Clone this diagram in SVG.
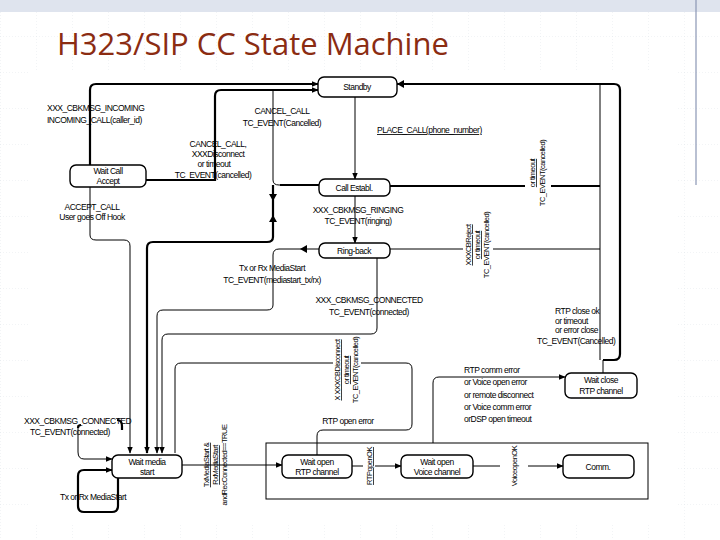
<svg xmlns="http://www.w3.org/2000/svg" width="720" height="540" viewBox="0 0 720 540">
<defs>
<pattern id="grid" width="36" height="36" patternUnits="userSpaceOnUse"><path d="M0 0H36M0 0V36" fill="none" stroke="#d4d8e0" stroke-width="0.6" stroke-dasharray="1 2"/></pattern>
<marker id="ar" viewBox="0 0 10 10" refX="9" refY="5" markerWidth="7" markerHeight="7" markerUnits="userSpaceOnUse" orient="auto"><path d="M0 1L10 5L0 9Z" fill="#000"/></marker>
<style>
.n rect{fill:#fff;stroke:#000;stroke-width:1.4}
.n text,.l{font-family:"Liberation Sans",Arial,sans-serif;font-size:8.5px;fill:#000;letter-spacing:-0.5px}
.n text{text-anchor:middle}
.c{text-anchor:middle}
.t{fill:none;stroke:#000;stroke-width:1}
.k{fill:none;stroke:#000;stroke-width:2.2}
</style>
</defs>
<rect width="720" height="540" fill="#fff"/>
<rect width="720" height="540" fill="url(#grid)"/>
<rect width="720" height="12" fill="#dfe4ee"/>
<line x1="696" y1="0" x2="696" y2="185" stroke="#8a96b4" stroke-width="1.2"/>
<text x="57" y="55" font-family="'Open Sans','Liberation Sans',sans-serif" font-size="31" fill="#8b2c12">H323/SIP CC State Machine</text>
<rect x="30" y="70" width="646" height="455" fill="#fff"/>

<g id="connectors">
<path class="k" d="M90 165V90Q90 84 96 84H318" marker-end="url(#ar)"/>
<path class="k" d="M146 180H215V96Q215 90 221 90H318" marker-end="url(#ar)"/>
<path class="t" d="M273 91V180Q273 185 279 185H319"/>
<path class="k" d="M319 185H280"/>
<path class="k" d="M273 185V237Q273 242 267 242H153Q147 242 147 248V453" marker-end="url(#ar)"/>
<path d="M269 194L277 194L273 201Z M269 222L277 222L273 215Z" fill="#000"/>
<path class="t" d="M319 249H279Q273 249 273 255V305Q273 310 267 310H163Q157 310 157 316V453" marker-end="url(#ar)"/>
<path d="M307 245L307 253L300 249Z" fill="#000"/>
<path class="t" d="M90 187V235Q90 240 96 240H124Q130 240 130 246V453" marker-end="url(#ar)"/>
<path class="t" d="M355 97V179" marker-end="url(#ar)"/>
<path class="t" d="M355 196V243" marker-end="url(#ar)"/>
<path class="t" d="M377 258V328Q377 334 371 334H168Q162 334 162 340V453" marker-end="url(#ar)"/>
<path class="t" d="M317 455V436Q317 430 323 430H406Q412 430 412 424V369Q412 363 406 363H181Q175 363 175 369V453"/>
<path class="k" d="M397 84H614Q620 84 620 90V354Q620 360 614 360H603"/>
<path class="t" d="M600 84V360"/>
<path d="M404 80L404 88L397 84Z" fill="#000"/>
<path class="k" d="M390 186H600"/>
<path class="t" d="M390 249H600"/>
<path class="t" d="M603 360V373"/>
<path class="t" d="M433 443V383Q433 377 439 377H565" marker-end="url(#ar)"/>
<rect x="266" y="443" width="382" height="56" class="t"/>
<path class="t" d="M172 465H282" marker-end="url(#ar)"/>
<path class="t" d="M352 466H363M375 466H401" marker-end="url(#ar)"/>
<path class="t" d="M473 466H500M528 466H563" marker-end="url(#ar)"/>
<path class="k" d="M117 420Q122 420 122 426V430"/>
<path class="t" d="M78 428V452Q78 459 84 459H112" marker-end="url(#ar)"/>
<path class="k" d="M78 428Q78 425 81 425"/>
<path class="k" d="M118 476V506Q118 512 112 512H84Q78 512 78 506V476Q78 470 84 470H112" marker-end="url(#ar)"/>
</g>

<g id="standby" class="n"><rect x="318" y="77" width="79" height="20" rx="6"/><text x="357" y="90">Standby</text></g>
<g id="wait-call-accept" class="n"><rect x="70" y="165" width="76" height="22" rx="6"/><text x="108" y="174">Wait Call</text><text x="108" y="184">Accept</text></g>
<g id="call-establ" class="n"><rect x="319" y="179" width="71" height="17" rx="6"/><text x="354" y="191">Call Establ.</text></g>
<g id="ring-back" class="n"><rect x="319" y="243" width="71" height="15" rx="6"/><text x="354" y="254">Ring-back</text></g>
<g id="wait-close" class="n"><rect x="565" y="373" width="72" height="25" rx="6"/><text x="601" y="383">Wait close</text><text x="601" y="394">RTP channel</text></g>
<g id="wait-media" class="n"><rect x="112" y="455" width="70" height="23" rx="6"/><text x="147" y="465">Wait media</text><text x="147" y="475">start</text></g>
<g id="wait-rtp" class="n"><rect x="282" y="455" width="70" height="23" rx="6"/><text x="317" y="465">Wait open</text><text x="317" y="475">RTP channel</text></g>
<g id="wait-voice" class="n"><rect x="401" y="455" width="72" height="23" rx="6"/><text x="437" y="465">Wait open</text><text x="437" y="475">Voice channel</text></g>
<g id="comm" class="n"><rect x="563" y="455" width="71" height="23" rx="6"/><text x="598" y="470">Comm.</text></g>

<g id="labels">
<text class="l" x="47" y="111">XXX_CBKMSG_INCOMING</text>
<text class="l" x="47" y="123">INCOMING_CALL(caller_id)</text>
<text class="l c" x="282" y="114">CANCEL_CALL</text>
<text class="l c" x="282" y="126">TC_EVENT(Cancelled)</text>
<text class="l c" x="218" y="147">CANCEL_CALL,</text>
<text class="l c" x="218" y="157">XXXDisconnect</text>
<text class="l c" x="214" y="167">or timeout</text>
<text class="l c" x="213" y="178">TC_EVENT(cancelled)</text>
<text class="l" x="377" y="133" text-decoration="underline">PLACE_CALL(phone_number)</text>
<text class="l c" x="92" y="210">ACCEPT_CALL</text>
<text class="l c" x="92" y="220">User goes Off Hook</text>
<text class="l c" x="358" y="213">XXX_CBKMSG_RINGING</text>
<text class="l c" x="358" y="224">TC_EVENT(ringing)</text>
<text class="l c" x="272" y="271">Tx or Rx MediaStart</text>
<text class="l c" x="272" y="283">TC_EVENT(mediastart_tx/rx)</text>
<text class="l c" x="369" y="303">XXX_CBKMSG_CONNECTED</text>
<text class="l c" x="369" y="315">TC_EVENT(connected)</text>
<text class="l" x="555" y="314">RTP close ok</text>
<text class="l" x="555" y="324">or timeout</text>
<text class="l" x="555" y="333">or error close</text>
<text class="l" x="537" y="344">TC_EVENT(Cancelled)</text>
<text class="l" x="464" y="373">RTP comm error</text>
<text class="l" x="464" y="385">or Voice open error</text>
<text class="l" x="464" y="398">or remote disconnect</text>
<text class="l" x="464" y="410">or Voice comm error</text>
<text class="l" x="464" y="422">orDSP open timeout</text>
<text class="l c" x="348" y="424">RTP open error</text>
<text class="l" x="24" y="424">XXX_CBKMSG_CONNECTED</text>
<text class="l" x="30" y="435">TC_EVENT(connected)</text>
<text class="l" x="60" y="500">Tx or Rx MediaStart</text>
<g>
<rect x="525" y="150" width="26" height="46" fill="#fff"/>
<text class="l c" transform="translate(538 173) rotate(-90)" y="-3" style="font-size:7.5px" text-decoration="underline">or timeout</text>
<text class="l c" transform="translate(538 173) rotate(-90)" y="7" style="font-size:7.5px">TC_EVENT(cancelled)</text>
<rect x="463" y="216" width="30" height="58" fill="#fff"/>
<text class="l c" transform="translate(478 245) rotate(-90)" y="-7" style="font-size:7.5px" text-decoration="underline">XXXCBReject</text>
<text class="l c" transform="translate(478 245) rotate(-90)" y="2" style="font-size:7.5px" text-decoration="underline">or timeout</text>
<text class="l c" transform="translate(478 245) rotate(-90)" y="11" style="font-size:7.5px">TC_EVENT(cancelled)</text>
<rect x="333" y="338" width="28" height="64" fill="#fff"/>
<text class="l c" transform="translate(347 370) rotate(-90)" y="-7" style="font-size:7.5px" text-decoration="underline">X XXXCBDisconnect</text>
<text class="l c" transform="translate(347 370) rotate(-90)" y="2" style="font-size:7.5px" text-decoration="underline">or timeout</text>
<text class="l c" transform="translate(347 370) rotate(-90)" y="11" style="font-size:7.5px">TC_EVENT(cancelled)</text>
<text class="l c" transform="translate(216 465) rotate(-90)" y="-7" style="font-size:7.5px" text-decoration="underline">TxMediaStart &amp;</text>
<text class="l c" transform="translate(216 465) rotate(-90)" y="2" style="font-size:7.5px" text-decoration="underline">RxMediaStart</text>
<text class="l c" transform="translate(216 465) rotate(-90)" y="11" style="font-size:7.5px">andRecConnected==TRUE</text>
<text class="l c" transform="translate(369 466) rotate(-90)" y="3" style="font-size:7.5px" text-decoration="underline">RTPopenOK</text>
<text class="l c" transform="translate(514 466) rotate(-90)" y="3" style="font-size:7.5px">VoiceopenOK</text>
</g>
</g>
</svg>
